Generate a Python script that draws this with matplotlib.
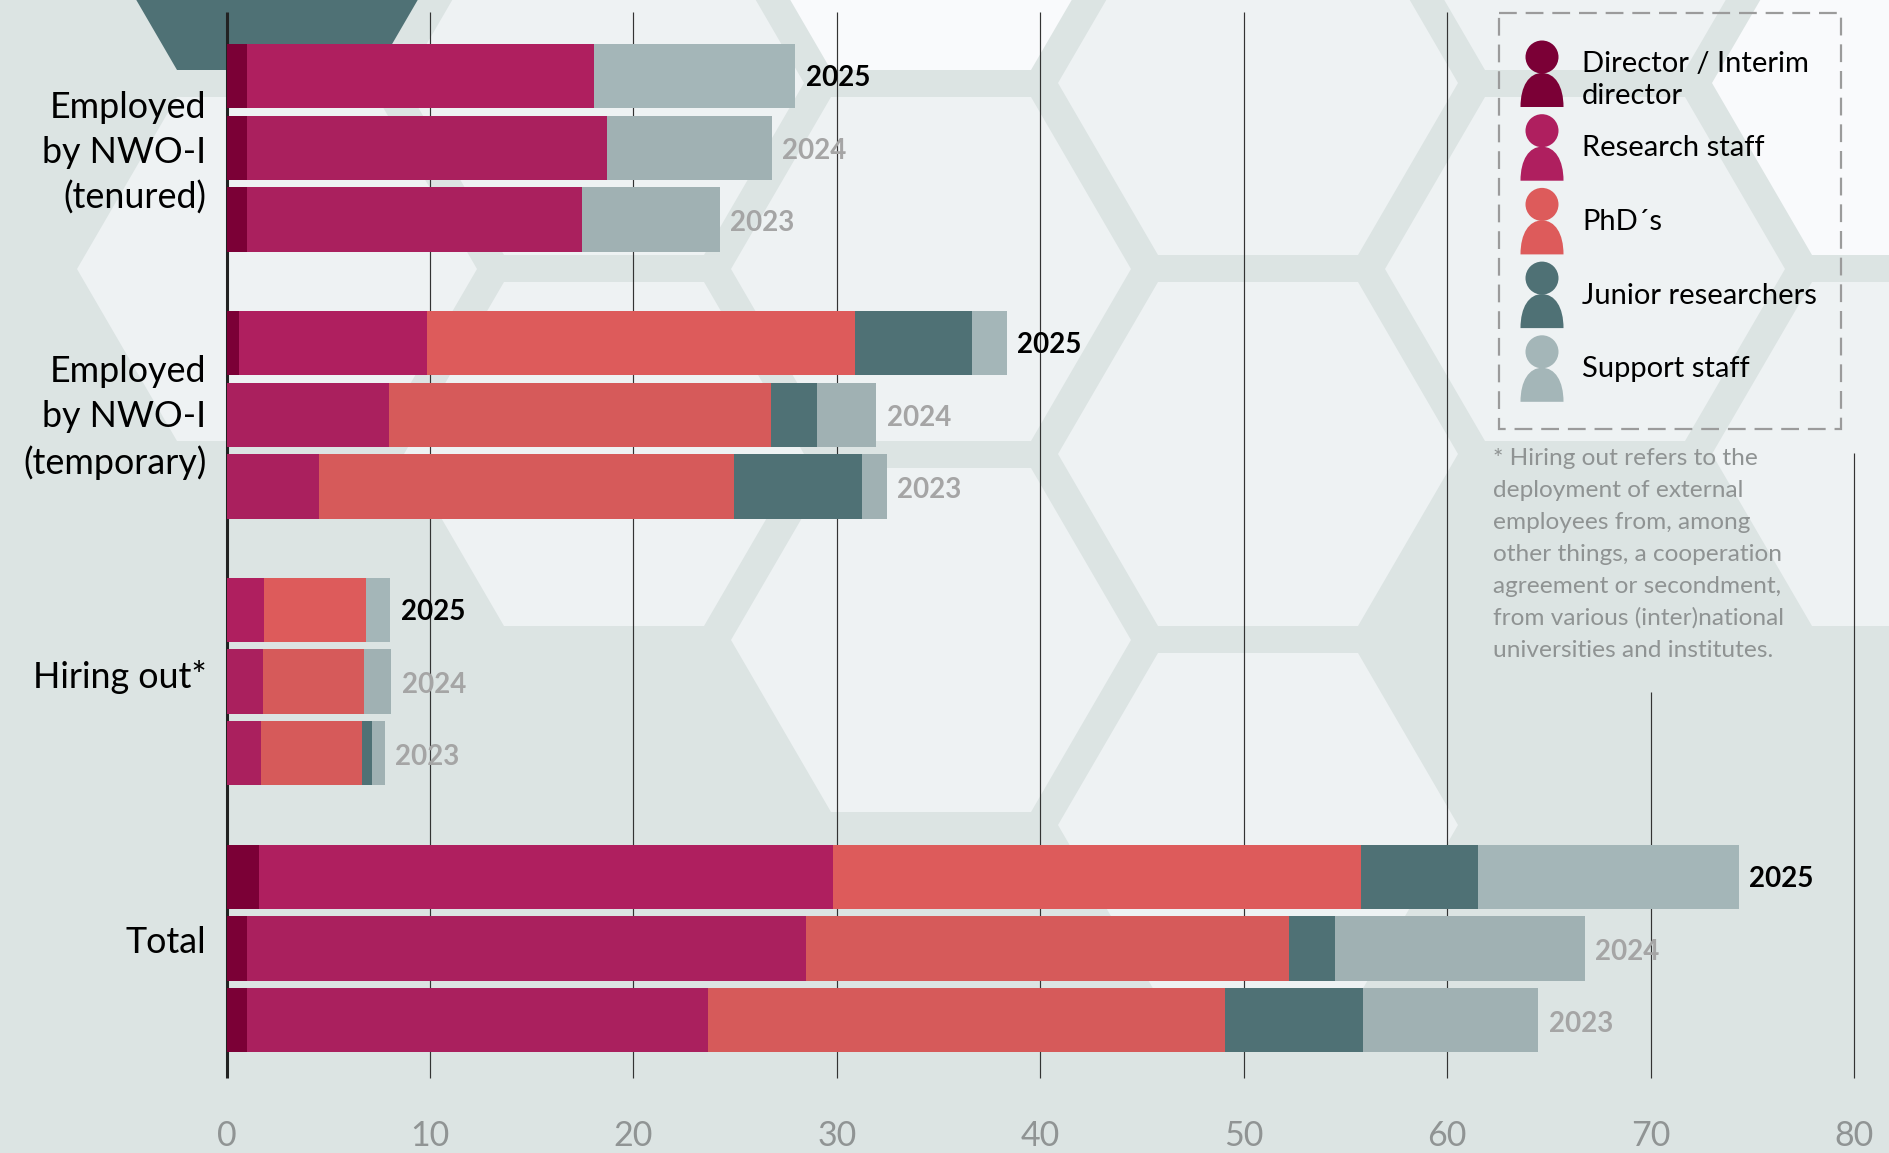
import matplotlib
matplotlib.use("Agg")
import matplotlib.pyplot as plt
import numpy as np
from matplotlib.patches import Circle, PathPatch, Polygon, Rectangle
from matplotlib.path import Path

plt.rcParams["font.family"] = ["Lato", "DejaVu Sans"]

# Rows run top to bottom: 2025, 2024, 2023 for each group
groups = ["Employed\nby NWO-I\n(tenured)", "Employed\nby NWO-I\n(temporary)", "Hiring out*", "Total"]
years = ["2025", "2024", "2023"]
director = [1.0, 1.0, 1.0, 0.63, 0, 0, 0, 0, 0, 1.62, 1.0, 1.0]
research = [17.05, 17.7, 16.47, 9.25, 7.97, 4.54, 1.85, 1.78, 1.72, 28.18, 27.5, 22.66]
phds = [0, 0, 0, 21.0, 18.8, 20.39, 5.03, 4.97, 4.95, 25.95, 23.75, 25.4]
junior = [0, 0, 0, 5.78, 2.28, 6.32, 0, 0, 0.5, 5.75, 2.25, 6.8]
support = [9.9, 8.1, 6.78, 1.7, 2.9, 1.22, 1.17, 1.35, 0.6, 12.85, 12.28, 8.62]

legend_labels = ["Director / Interim\ndirector", "Research staff", "PhD´s", "Junior researchers", "Support staff"]
footnote = ["* Hiring out refers to the", "deployment of external", "employees from, among",
            "other things, a cooperation", "agreement or secondment,",
            "from various (inter)national", "universities and institutes."]

colors_new = ["#7B0036", "#AF1F5F", "#DD5B5B", "#4F7175", "#A4B6B8"]
colors_old = ["#7B0036", "#AA205E", "#D65A5A", "#4F7175", "#A0B1B3"]

BASE = "#DCE4E3"
HEX = "#EEF2F3"
HEX_LIGHT = "#F9FAFC"
TEAL = "#4F7175"

W, H = 1889, 1153
fig = plt.figure(figsize=(W / 100, H / 100), dpi=100, facecolor=BASE)

# Background layer in pixel coordinates
bg = fig.add_axes([0, 0, 1, 1], zorder=0)
bg.set_xlim(0, W)
bg.set_ylim(H, 0)
bg.axis("off")


def hexagon(cx, cy, color):
    r = 200
    h = 172
    pts = [(cx - r, cy), (cx - r / 2, cy - h), (cx + r / 2, cy - h),
           (cx + r, cy), (cx + r / 2, cy + h), (cx - r / 2, cy + h)]
    bg.add_patch(Polygon(pts, closed=True, facecolor=color, edgecolor="none"))


for cx, cy in [(277, 269), (604, 83), (604, 454), (931, 269), (931, 640), (1258, 83),
               (1258, 454), (1258, 825), (1585, -102), (1585, 269), (1912, 454)]:
    hexagon(cx, cy, HEX)
hexagon(931, -102, HEX_LIGHT)
hexagon(1912, 83, HEX_LIGHT)
hexagon(277, -102, TEAL)

# Legend box with person icons
bg.add_patch(Rectangle((1499, 13), 342, 416, fill=False, edgecolor="#9B9B9B", linewidth=1.6,
                       linestyle=(0, (8, 4))))
for i, color in enumerate(colors_new):
    off = 73.7 * i
    x0 = 1542
    bg.add_patch(Circle((x0, 57 + off), 16.5, facecolor=color, edgecolor="none"))
    verts = [(x0 - 21.5, 107 + off), (x0 - 21.5, 86 + off), (x0 - 13, 73 + off), (x0, 73 + off),
             (x0 + 13, 73 + off), (x0 + 21.5, 86 + off), (x0 + 21.5, 107 + off), (x0 - 21.5, 107 + off)]
    codes = [Path.MOVETO, Path.CURVE4, Path.CURVE4, Path.CURVE4,
             Path.CURVE4, Path.CURVE4, Path.CURVE4, Path.CLOSEPOLY]
    bg.add_patch(PathPatch(Path(verts, codes), facecolor=color, edgecolor="none"))

legend_y = [71.5, 155.5, 229.5, 303.5, 377]
for label, y in zip(legend_labels, legend_y):
    lines = label.split("\n")
    for j, line in enumerate(lines):
        bg.text(1582, y + j * 32, line, fontsize=21, color="black", va="baseline", ha="left")

for i, line in enumerate(footnote):
    bg.text(1493, 465 + i * 32, line, fontsize=17.6, color="#8F9393", va="baseline", ha="left")

# Chart layer
left, right = 226.5, 1854
top, bottom = 12, 1078
ax = fig.add_axes([left / W, 1 - bottom / H, (right - left) / W, (bottom - top) / H], zorder=1)
ax.patch.set_alpha(0)
ax.set_xlim(0, 80)
pitch = 71.75
ax.set_ylim((bottom - 76) / pitch, (top - 76) / pitch)

group_gap = 3.72
y_pos = np.array([g * group_gap + r for g in range(4) for r in range(3)])

# Gridlines: the last two stop short under the legend and the footnote
grid_x = np.arange(0, 90, 10)
grid_top = [top, top, top, top, top, top, top, 692, 453]
for x, t in zip(grid_x, grid_top):
    ax.vlines(x, ax.get_ylim()[0], (t - 76) / pitch, color="#222222" if x == 0 else "#333333",
              linewidth=2.2 if x == 0 else 0.85, zorder=1, clip_on=False)

series = [director, research, phds, junior, support]
start = np.zeros(len(y_pos))
for k, values in enumerate(series):
    values = np.array(values)
    cols = [colors_new[k] if i % 3 == 0 else colors_old[k] for i in range(len(y_pos))]
    ax.barh(y_pos, values, left=start, height=0.895, color=cols, linewidth=0, zorder=2)
    start = start + values

for i, (y, total) in enumerate(zip(y_pos, start)):
    newest = i % 3 == 0
    ax.annotate(years[i % 3], xy=(total, y), xytext=(7.5, -1.5 if newest else -2.4),
                textcoords="offset points", fontsize=20, fontweight="bold",
                color="black" if newest else "#A5A5A5", va="center", ha="left", zorder=3)

# Group names sit left of the axis, the single-line ones a little higher
label_shift = [-3.7, -2, 3.4, 4.3]
for name, y, shift in zip(groups, y_pos[1::3], label_shift):
    ax.annotate(name, xy=(0, y), xytext=(-14.5, shift), textcoords="offset points",
                fontsize=25.8, color="black", ha="right", va="center",
                multialignment="right", linespacing=1.44, annotation_clip=False)

ax.set_xticks(grid_x)
ax.set_yticks([])
ax.tick_params(axis="x", length=0, labelsize=24.5, labelcolor="#909494", pad=30.5)
for spine in ax.spines.values():
    spine.set_visible(False)

fig.savefig("out.png", dpi=100, facecolor=BASE)
